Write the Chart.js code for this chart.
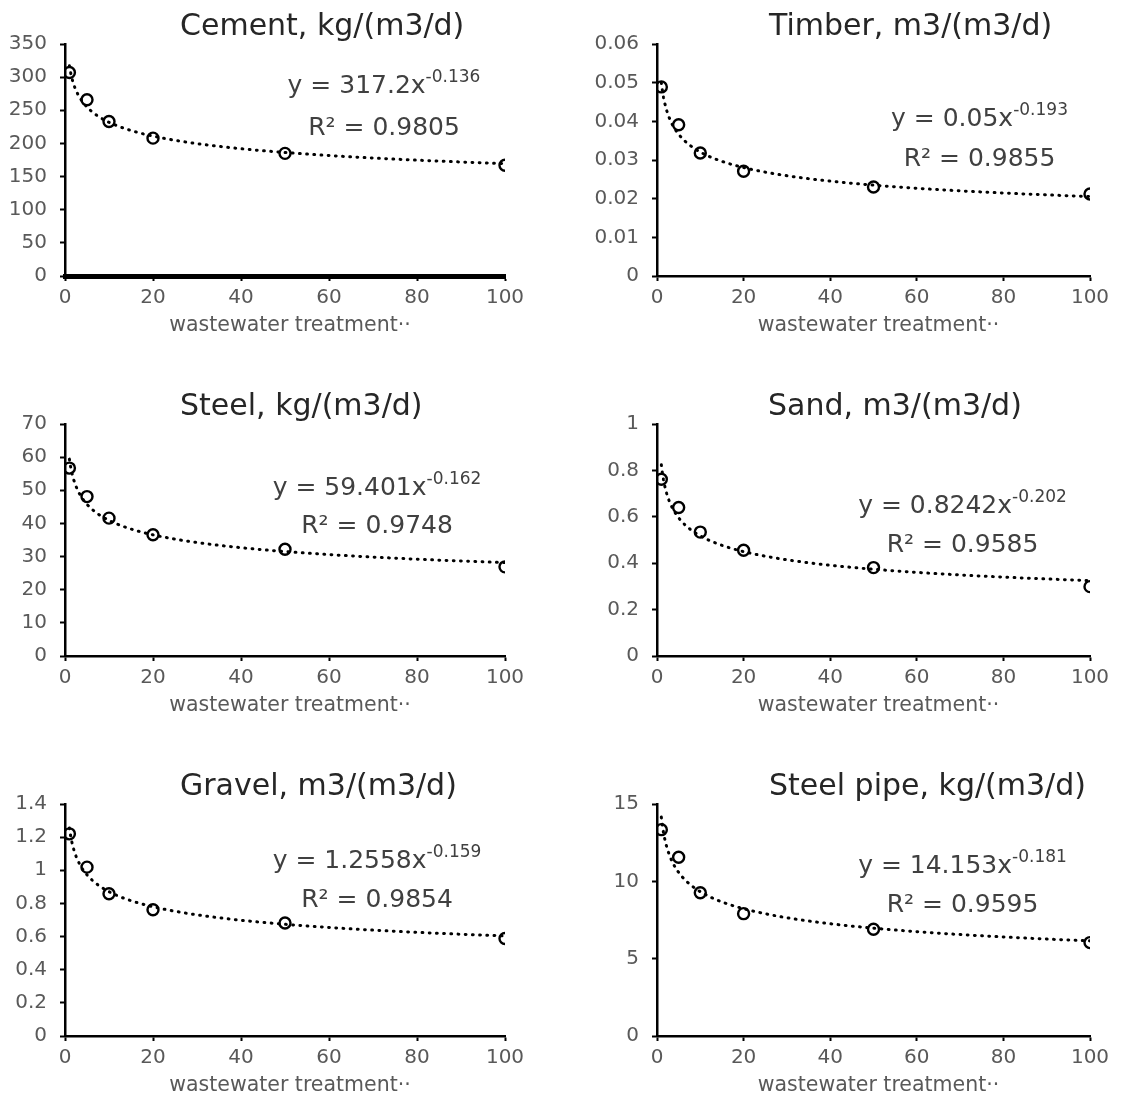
<!DOCTYPE html>
<html>
<head>
<meta charset="utf-8">
<script src="https://cdn.jsdelivr.net/npm/chart.js@4.4.1/dist/chart.umd.min.js"></script>
<style>
  html, body { margin: 0; padding: 0; background: #ffffff; }
  body { width: 1121px; height: 1096px; position: relative; overflow: hidden; }
  canvas { position: absolute; }
</style>
</head>
<body>
<script>
// Plant capacity (x) and material use per unit capacity for each material
const treatmentScale = [1, 5, 10, 20, 50, 100];
const materialNames = ['Cement, kg/(m3/d)', 'Timber, m3/(m3/d)', 'Steel, kg/(m3/d)',
                       'Sand, m3/(m3/d)', 'Gravel, m3/(m3/d)', 'Steel pipe, kg/(m3/d)'];
const cement    = [307, 266, 233, 208, 185, 167];
const timber    = [0.0489, 0.0391, 0.0318, 0.0271, 0.0230, 0.0212];
const steel     = [56.7, 48.1, 41.6, 36.6, 32.2, 26.9];
const sand      = [0.762, 0.640, 0.534, 0.456, 0.381, 0.299];
const gravel    = [1.220, 1.019, 0.858, 0.762, 0.682, 0.588];
const steelPipe = [13.34, 11.56, 9.26, 7.91, 6.90, 6.04];

// Power-law trendline y = a·x^b and its R² for each material
const fitCoef = ['317.2', '0.05', '59.401', '0.8242', '1.2558', '14.153'];
const fitExp  = ['-0.136', '-0.193', '-0.162', '-0.202', '-0.159', '-0.181'];
const fitR2   = ['0.9805', '0.9855', '0.9748', '0.9585', '0.9854', '0.9595'];

// Axis ranges and tick steps
const xTicks = [0, 20, 40, 60, 80, 100];
const yMax  = [350, 0.06, 70, 1, 1.4, 15];
const yStep = [50, 0.01, 10, 0.2, 0.2, 5];
const xTitle = 'wastewater treatment\u00B7\u00B7';

const seriesList = [cement, timber, steel, sand, gravel, steelPipe];

// Panel placement on the page and text anchors inside each panel
const panelLayout = [
  { left: 0,   top: 0,   w: 560, h: 380, plotL: 65, plotR: 505, titleX: 180, eqX: 384,   eqY: 93,  r2Y: 135, xAxisWidth: 5 },
  { left: 560, top: 0,   w: 561, h: 380, plotL: 97, plotR: 530, titleX: 209, eqX: 419.5, eqY: 126, r2Y: 166, xAxisWidth: 2.5 },
  { left: 0,   top: 380, w: 560, h: 380, plotL: 65, plotR: 505, titleX: 180, eqX: 377,   eqY: 115, r2Y: 153, xAxisWidth: 2.5 },
  { left: 560, top: 380, w: 561, h: 380, plotL: 97, plotR: 530, titleX: 208, eqX: 402.5, eqY: 133, r2Y: 172, xAxisWidth: 2.5 },
  { left: 0,   top: 760, w: 560, h: 336, plotL: 65, plotR: 505, titleX: 180, eqX: 377,   eqY: 108, r2Y: 147, xAxisWidth: 2.5 },
  { left: 560, top: 760, w: 561, h: 336, plotL: 97, plotR: 530, titleX: 209, eqX: 402.5, eqY: 113, r2Y: 152, xAxisWidth: 2.5 }
];

const FONT = '"DejaVu Sans", "Liberation Sans", sans-serif';
const PLOT_TOP = 44, PLOT_BOTTOM = 276, X_AXIS_H = 30;

// Title, trendline equation and x-axis title drawn on top of each panel
const panelText = {
  id: 'panelText',
  afterDraw(chart, args, o) {
    const ctx = chart.ctx, area = chart.chartArea;
    ctx.save();
    ctx.textBaseline = 'alphabetic';

    ctx.fillStyle = '#262626';
    ctx.font = '30px ' + FONT;
    ctx.textAlign = 'left';
    ctx.fillText(o.title, o.titleX, 35);

    const eqFont = '25px ' + FONT, supFont = '17px ' + FONT;
    const main = 'y = ' + o.coef + 'x';
    ctx.font = eqFont;
    const w1 = ctx.measureText(main).width;
    ctx.font = supFont;
    const w2 = ctx.measureText(o.exp).width;
    const x0 = o.eqX - (w1 + w2) / 2;
    ctx.fillStyle = '#404040';
    ctx.font = eqFont;
    ctx.fillText(main, x0, o.eqY);
    ctx.font = supFont;
    ctx.fillText(o.exp, x0 + w1, o.eqY - 11);

    ctx.font = eqFont;
    ctx.textAlign = 'center';
    ctx.fillText('R\u00B2 = ' + o.r2, o.eqX, o.r2Y);

    ctx.fillStyle = '#595959';
    ctx.font = '20.5px ' + FONT;
    ctx.fillText(xTitle, (area.left + area.right) / 2 + 5, 331);
    ctx.restore();
  }
};

// Sample the stated power-law trendline across the plotted x range
function trendPoints(i) {
  const a = Number(fitCoef[i]), b = Number(fitExp[i]);
  const lo = treatmentScale[0], hi = treatmentScale[treatmentScale.length - 1];
  const pts = [];
  for (let x = lo; x <= hi + 1e-9; x += 0.25) pts.push({ x: x, y: a * Math.pow(x, b) });
  return pts;
}

function fmtTick(v) { return String(Number(v.toFixed(4))); }

seriesList.forEach((values, i) => {
  const L = panelLayout[i];
  const canvas = document.createElement('canvas');
  canvas.width = L.w; canvas.height = L.h;
  canvas.style.left = L.left + 'px'; canvas.style.top = L.top + 'px';
  canvas.style.width = L.w + 'px'; canvas.style.height = L.h + 'px';
  document.body.appendChild(canvas);

  const points = treatmentScale.map((x, k) => ({ x: x, y: values[k] }));

  new Chart(canvas.getContext('2d'), {
    type: 'scatter',
    data: {
      datasets: [
        {
          data: trendPoints(i),
          showLine: true,
          pointRadius: 0,
          pointHoverRadius: 0,
          borderColor: '#000000',
          borderWidth: 3,
          borderDash: [0.8, 6.4],
          borderCapStyle: 'round',
          tension: 0,
          order: 2
        },
        {
          data: points,
          showLine: false,
          pointStyle: 'circle',
          pointRadius: 5.5,
          pointBorderWidth: 2.4,
          pointBorderColor: '#000000',
          pointBackgroundColor: 'rgba(0,0,0,0)',
          order: 1
        }
      ]
    },
    options: {
      responsive: false,
      animation: false,
      devicePixelRatio: 1,
      events: [],
      layout: {
        padding: { left: 0, top: PLOT_TOP, right: L.w - L.plotR, bottom: L.h - PLOT_BOTTOM - X_AXIS_H }
      },
      scales: {
        x: {
          type: 'linear',
          min: xTicks[0],
          max: xTicks[xTicks.length - 1],
          afterBuildTicks: s => { s.ticks = xTicks.map(v => ({ value: v })); },
          afterFit: s => { s.height = X_AXIS_H; },
          ticks: { color: '#595959', font: { family: FONT, size: 20 }, padding: 5, maxRotation: 0, autoSkip: false },
          grid: { display: true, drawOnChartArea: false, drawTicks: true, tickLength: 5, tickColor: '#000000', tickWidth: 2 },
          border: { display: true, color: '#000000', width: L.xAxisWidth }
        },
        y: {
          type: 'linear',
          min: 0,
          max: yMax[i],
          ticks: { stepSize: yStep[i], color: '#595959', font: { family: FONT, size: 20 }, padding: 13, callback: fmtTick },
          afterFit: s => { s.width = L.plotL; },
          grid: { display: true, drawOnChartArea: false, drawTicks: true, tickLength: 5, tickColor: '#000000', tickWidth: 2 },
          border: { display: true, color: '#000000', width: 2.5 }
        }
      },
      plugins: {
        legend: { display: false },
        tooltip: { enabled: false },
        title: { display: false },
        panelText: {
          title: materialNames[i], titleX: L.titleX,
          coef: fitCoef[i], exp: fitExp[i], r2: fitR2[i],
          eqX: L.eqX, eqY: L.eqY, r2Y: L.r2Y
        }
      }
    },
    plugins: [panelText]
  });
});
</script>
</body>
</html>
